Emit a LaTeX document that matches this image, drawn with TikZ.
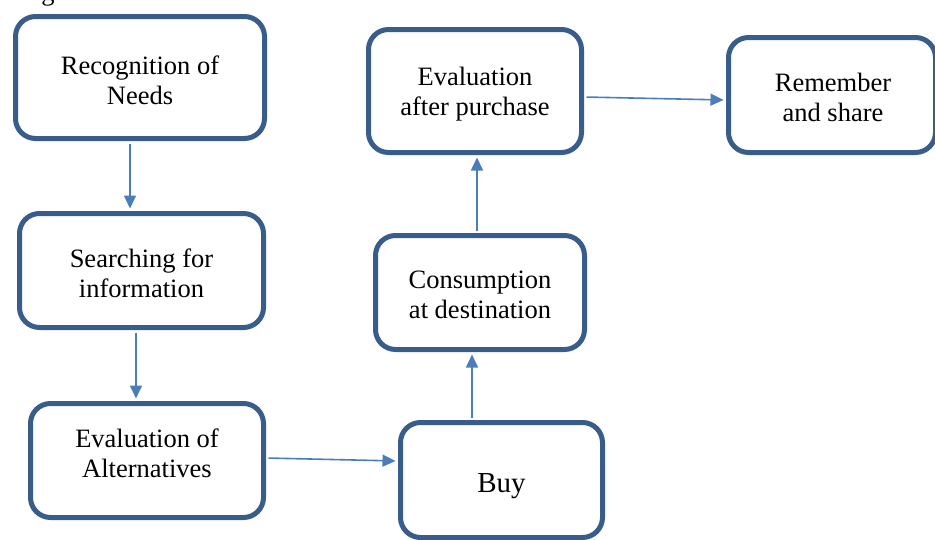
\documentclass[tikz,border=0pt]{standalone}
\usepackage{fontspec}
\setmainfont{Liberation Serif}
\usetikzlibrary{arrows.meta}
\definecolor{boxblue}{HTML}{385D8A}
\definecolor{arrblue}{HTML}{4A7EBB}
\begin{document}
\begin{tikzpicture}[x=1pt,y=-1pt,
 box/.style={draw=boxblue, line width=5pt, rounded corners=20pt, fill=white, align=center,
   font=\fontsize{26.5}{30}\selectfont, inner sep=0pt},
 txt/.style={align=center, font=\fontsize{26.5}{30}\selectfont, inner sep=0pt},
 conn/.style={draw=arrblue, line width=1.6pt, shorten <=2.5pt, shorten >=2.5pt,
   -{Triangle[length=13pt,width=12pt]}}]
\useasboundingbox (0,0) rectangle (935,539);
\clip (0,0) rectangle (935,539);
\node[font=\fontsize{26.5}{30}\selectfont, anchor=base, inner sep=0pt] (g) at (48,0) {g};
\node[box, minimum width=249pt, minimum height=122pt] (b1) at (140,77.5) {};
\node[txt] (t1) at (140,80) {Recognition of\\Needs};
\node[box, minimum width=244pt, minimum height=114pt] (b2) at (141.5,270.5) {};
\node[txt] (t2) at (141.5,273) {Searching for\\information};
\node[box, minimum width=233pt, minimum height=114pt] (b3) at (147,460.5) {};
\node[txt] (t3) at (147,453.5) {Evaluation of\\Alternatives};
\node[box, minimum width=202pt, minimum height=115pt] (b4) at (501.5,480) {};
\node[txt, font=\fontsize{29}{33}\selectfont] (t4) at (501.5,486) {Buy};
\node[box, minimum width=209pt, minimum height=114pt] (b5) at (480,292.5) {};
\node[txt] (t5) at (480,294.5) {Consumption\\at destination};
\node[box, minimum width=213pt, minimum height=123pt] (b6) at (475,91) {};
\node[txt] (t6) at (475,94) {Evaluation\\after purchase};
\node[box, minimum width=207pt, minimum height=115pt] (b7) at (832,95) {};
\node[txt] (t7) at (833,97.5) {Remember\\and share};
\draw[conn] ([xshift=-10pt]b1.south) -- ([xshift=-10pt]b1.south |- b2.north);
\draw[conn] ([xshift=-5.5pt]b2.south) -- ([xshift=-5.5pt]b2.south |- b3.north);
\draw[conn] ([yshift=2.5pt]b3.east) -- ([yshift=19pt]b4.west);
\draw[conn] ([xshift=-29.5pt]b4.north) -- ([xshift=-29.5pt]b4.north |- b5.south);
\draw[conn] ([xshift=-3pt]b5.north) -- ([xshift=-3pt]b5.north |- b6.south);
\draw[conn] ([yshift=-6pt]b6.east) -- ([yshift=-5pt]b7.west);
\end{tikzpicture}
\end{document}
